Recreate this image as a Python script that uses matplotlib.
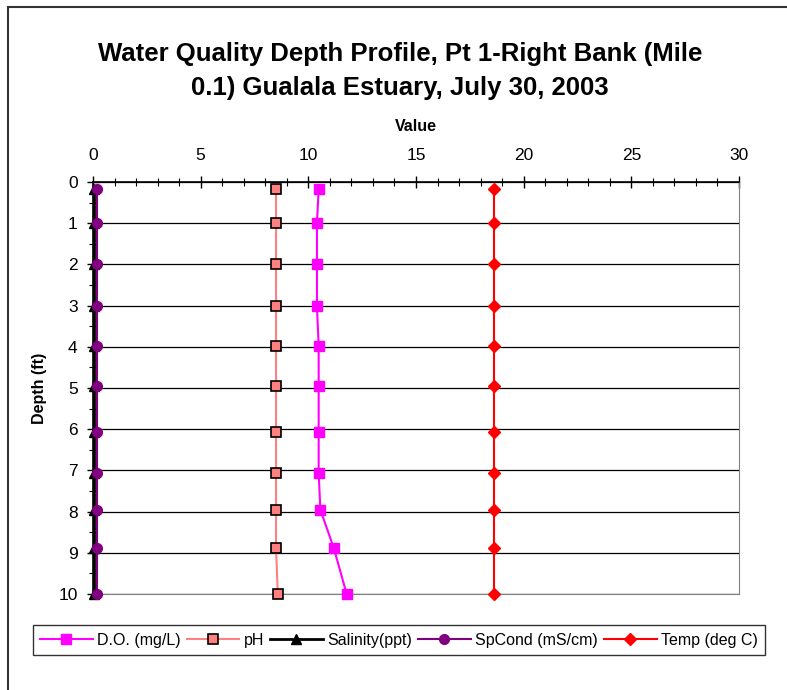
import matplotlib.pyplot as plt
from matplotlib.patches import Rectangle
from matplotlib.ticker import MultipleLocator

plt.rcParams['font.family'] = ['Liberation Sans', 'DejaVu Sans']

depth = [0.17, 1.0, 1.98, 3.02, 3.98, 4.95, 6.07, 7.07, 7.96, 8.88, 10.0]
do_mg = [10.48, 10.4, 10.4, 10.4, 10.48, 10.48, 10.48, 10.48, 10.56, 11.18, 11.78]
ph = [8.5, 8.5, 8.5, 8.5, 8.5, 8.5, 8.5, 8.5, 8.5, 8.5, 8.58]
salinity = [0.06, 0.06, 0.06, 0.06, 0.06, 0.06, 0.06, 0.06, 0.06, 0.06, 0.06]
spcond = [0.2, 0.2, 0.2, 0.2, 0.2, 0.2, 0.2, 0.2, 0.2, 0.2, 0.2]
temp = [18.6, 18.6, 18.6, 18.6, 18.6, 18.6, 18.6, 18.6, 18.6, 18.6, 18.6]

fig = plt.figure(figsize=(7.87, 6.9), dpi=100)
ax = fig.add_axes([93/787, 1-594/690, (739-93)/787, (594-182)/690])

ax.plot(do_mg, depth, color='#FF00FF', marker='s', markersize=7, linewidth=1.5,
        label='D.O. (mg/L)', zorder=5, clip_on=False)
ax.plot(ph, depth, color='#FF8080', marker='s', markersize=7, markerfacecolor='#FF8080',
        markeredgecolor='black', markeredgewidth=1.2, linewidth=1.5, label='pH', zorder=5,
        clip_on=False)
ax.plot(salinity, depth, color='black', marker='^', markersize=7, linewidth=2,
        label='Salinity(ppt)', zorder=6, clip_on=False)
ax.plot(spcond, depth, color='#800080', marker='o', markersize=7, linewidth=1.5,
        label='SpCond (mS/cm)', zorder=7, clip_on=False)
ax.plot(temp, depth, color='red', marker='D', markersize=6, linewidth=1.5,
        label='Temp (deg C)', zorder=5, clip_on=False)

ax.set_xlim(0, 30)
ax.set_ylim(10, 0)
ax.xaxis.tick_top()
ax.xaxis.set_label_position('top')
ax.xaxis.set_major_locator(MultipleLocator(5))
ax.xaxis.set_minor_locator(MultipleLocator(1))
ax.yaxis.set_major_locator(MultipleLocator(1))
ax.yaxis.set_minor_locator(MultipleLocator(0.5))
ax.tick_params(axis='both', which='major', direction='inout', length=8, width=1,
               labelsize=12.5)
ax.tick_params(axis='x', which='major', pad=10)
ax.tick_params(axis='y', which='major', pad=7)
ax.tick_params(axis='both', which='minor', direction='inout', length=6, width=0.8)
ax.grid(True, axis='y', which='major', color='black', linewidth=0.9)
ax.set_axisbelow(True)

ax.spines['top'].set_color('black')
ax.spines['top'].set_linewidth(1.2)
ax.spines['left'].set_color('black')
ax.spines['left'].set_linewidth(1.2)
ax.spines['right'].set_color('#808080')
ax.spines['bottom'].set_color('#808080')

ax.set_xlabel('Value', fontsize=11.5, fontweight='bold', labelpad=12)
ax.set_ylabel('Depth (ft)', fontsize=11.5, fontweight='bold', labelpad=8)

fig.text(400/787, 1-71/690, 'Water Quality Depth Profile, Pt 1-Right Bank (Mile\n0.1) Gualala Estuary, July 30, 2003',
         ha='center', va='center', fontsize=18.5, fontweight='bold', linespacing=1.55)

leg = fig.legend(loc='center', bbox_to_anchor=(399/787, 1-640/690), ncol=5, fontsize=11.5,
                 frameon=True, fancybox=False, edgecolor='black', handlelength=3.3,
                 handletextpad=0.3, columnspacing=0.35, borderpad=0.45)
leg.get_frame().set_linewidth(1)

fig.patches.append(Rectangle((8/787, -0.05), 1.2, 1-7/690+0.05, transform=fig.transFigure,
                             fill=False, edgecolor='#333333', linewidth=1.5))

fig.savefig('out.png', dpi=100)
